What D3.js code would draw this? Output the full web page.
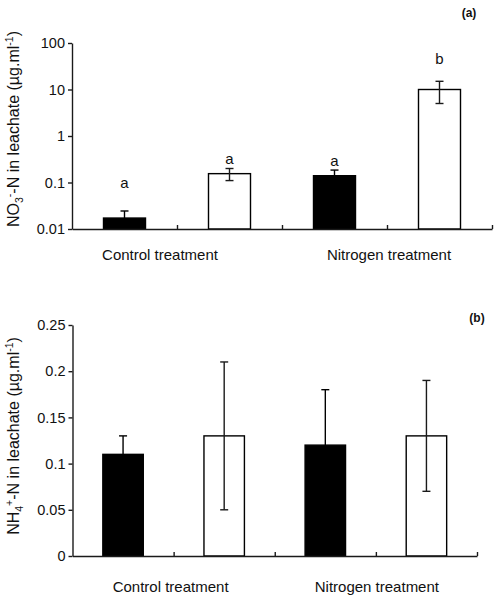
<!DOCTYPE html>
<html>
<head>
<meta charset="utf-8">
<script src="https://cdn.jsdelivr.net/npm/d3@7"></script>
<style>
  body { margin: 0; background: #fff; }
  svg { display: block; }
  text { font-family: "Liberation Sans", Arial, sans-serif; fill: #111; }
</style>
</head>
<body>
<svg id="chart" width="498" height="602"></svg>
<script>
// ---------- data ----------
const groups = ["Control treatment", "Nitrogen treatment"];
const slots = ["control-1", "control-2", "nitrogen-1", "nitrogen-2"];
const slotFills = ["#000", "#fff", "#000", "#fff"];

// panel (a): NO3--N, log scale
const no3Values = [0.0172, 0.155, 0.14, 10];
const no3Errors = [0.0072, 0.045, 0.045, 5];
const no3Letters = ["a", "a", "a", "b"];
const no3LetterAt = [0.1, 0.32, 0.29, 45];
const no3Ticks = [0.01, 0.1, 1, 10, 100];
const no3TickLabels = ["0.01", "0.1", "1", "10", "100"];

// panel (b): NH4+-N, linear scale
const nh4Values = [0.11, 0.13, 0.12, 0.13];
const nh4Errors = [0.02, 0.08, 0.06, 0.06];
const nh4Ticks = [0, 0.05, 0.1, 0.15, 0.2, 0.25];
const nh4TickLabels = ["0", "0.05", "0.1", "0.15", "0.2", "0.25"];

// ---------- drawing ----------
const svg = d3.select("#chart");
const ink = "#1a1a1a";

function panel(cfg) {
  const g = svg.append("g");
  const xb = d3.scaleBand().domain(slots).range([cfg.left, cfg.right])
    .paddingInner(0.6).paddingOuter(0.3);
  const xs = d3.scaleLinear().domain([0, slots.length]).range([cfg.left, cfg.right]);
  const y = cfg.y;

  // bars
  g.selectAll("rect.bar").data(cfg.values).join("rect")
    .attr("class", "bar")
    .attr("x", (d, i) => xb(slots[i]))
    .attr("width", xb.bandwidth())
    .attr("y", d => y(d))
    .attr("height", d => y(cfg.base) - y(d))
    .attr("fill", (d, i) => slotFills[i])
    .attr("stroke", "#000")
    .attr("stroke-width", 1.4);

  // error bars
  const cap = 4;
  cfg.values.forEach((v, i) => {
    const cx = xb(slots[i]) + xb.bandwidth() / 2;
    const hi = y(v + cfg.errors[i]);
    const lo = y(Math.max(v - cfg.errors[i], cfg.base));
    const col = slotFills[i] === "#000" ? "#000" : ink;
    g.append("line").attr("x1", cx).attr("x2", cx).attr("y1", hi).attr("y2", lo)
      .attr("stroke", col).attr("stroke-width", 1.4);
    g.append("line").attr("x1", cx - cap).attr("x2", cx + cap).attr("y1", hi).attr("y2", hi)
      .attr("stroke", col).attr("stroke-width", 1.4);
    g.append("line").attr("x1", cx - cap).attr("x2", cx + cap).attr("y1", lo).attr("y2", lo)
      .attr("stroke", col).attr("stroke-width", 1.4);
  });

  // y axis
  const ya = g.append("g").attr("transform", `translate(${cfg.left},0)`)
    .call(d3.axisLeft(y).tickValues(cfg.ticks)
      .tickFormat((d, i) => cfg.tickLabels[i])
      .tickSizeInner(4).tickSizeOuter(0).tickPadding(3));
  ya.selectAll("text").style("font-size", "14.5px").attr("fill", "#111")
    .attr("font-family", "Liberation Sans, Arial, sans-serif");
  ya.selectAll("path, line").attr("stroke", ink).attr("stroke-width", 1.4);

  // x axis
  const xa = g.append("g").attr("transform", `translate(0,${y(cfg.base)})`)
    .call(d3.axisBottom(xs).tickValues(d3.range(1, slots.length + 1))
      .tickFormat("").tickSizeInner(-4).tickSizeOuter(0));
  xa.selectAll("path, line").attr("stroke", ink).attr("stroke-width", 1.4);

  // group labels
  groups.forEach((name, k) => {
    g.append("text")
      .attr("x", xs(2 * k + 1) + cfg.labelShift[k])
      .attr("y", cfg.labelY)
      .attr("text-anchor", "middle")
      .style("font-size", "15px")
      .text(name);
  });

  // y title
  const t = g.append("text")
    .attr("transform", `translate(19,${cfg.titleY}) rotate(-90)`)
    .attr("text-anchor", "middle")
    .style("font-size", "16px");
  t.append("tspan").text(cfg.ion);
  t.append("tspan").attr("dy", 4).style("font-size", "10.5px").text(cfg.sub);
  t.append("tspan").attr("dy", -10.5).style("font-size", "10.5px").text(cfg.sup);
  t.append("tspan").attr("dy", 6.5).text("-N in leachate (µg.ml");
  t.append("tspan").attr("dy", -6).style("font-size", "10.5px").text("-1");
  t.append("tspan").attr("dy", 6).text(")");

  // panel tag
  g.append("text").attr("x", cfg.tagX).attr("y", cfg.tagY)
    .attr("text-anchor", "middle")
    .style("font-size", "12px").style("font-weight", "bold")
    .text(cfg.tag);

  return { g, xb, y };
}

// panel (a)
const yA = d3.scaleLog().domain([0.01, 100]).range([229, 43]);
const pa = panel({
  left: 72, right: 492, y: yA, base: 0.01,
  values: no3Values, errors: no3Errors,
  ticks: no3Ticks, tickLabels: no3TickLabels,
  labelY: 260, labelShift: [-17, 2], titleY: 129,
  ion: "NO", sub: "3", sup: "-",
  tag: "(a)", tagX: 469, tagY: 17
});
pa.g.selectAll("text.letter").data(no3Letters).join("text")
  .attr("class", "letter")
  .attr("x", (d, i) => pa.xb(slots[i]) + pa.xb.bandwidth() / 2)
  .attr("y", (d, i) => yA(no3LetterAt[i]) + 5)
  .attr("text-anchor", "middle")
  .style("font-size", "15px")
  .text(d => d);

// panel (b)
const yB = d3.scaleLinear().domain([0, 0.25]).range([556, 325]);
panel({
  left: 72.5, right: 477, y: yB, base: 0,
  values: nh4Values, errors: nh4Errors,
  ticks: nh4Ticks, tickLabels: nh4TickLabels,
  labelY: 592, labelShift: [-3, 1], titleY: 436,
  ion: "NH", sub: "4", sup: "+",
  tag: "(b)", tagX: 477, tagY: 322
});
</script>
</body>
</html>
